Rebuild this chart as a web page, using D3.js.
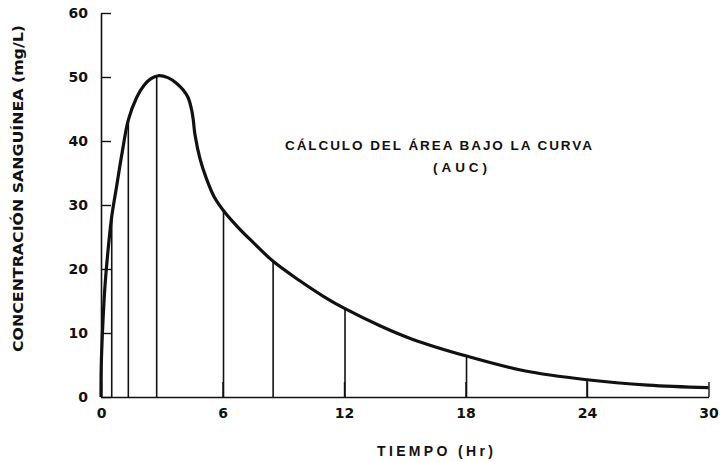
<!DOCTYPE html>
<html>
<head>
<meta charset="utf-8">
<script src="https://cdn.jsdelivr.net/npm/d3@7"></script>
<style>
  html, body { margin: 0; padding: 0; background: #fff; }
  svg { display: block; }
  text { font-family: "Liberation Sans", Arial, sans-serif; font-weight: bold; fill: #111; }
</style>
</head>
<body>
<svg id="chart" width="721" height="462"></svg>
<script>
// ---- data ----
const curveTime = [0, 0.01, 0.05, 0.1, 0.2, 0.35, 0.53, 0.77, 1.05, 1.35, 1.76, 2.1, 2.45, 2.83, 3.3, 3.74, 4.05, 4.3, 4.48, 4.56, 4.64, 4.89, 5.22, 5.6, 6.1, 6.8, 7.5, 8.5, 9.8, 11, 12.05, 13.8, 15.4, 18.05, 20.9, 24, 27, 30];
const curveConc = [0, 4.5, 8.5, 12, 17.5, 23, 28.2, 32.9, 38.3, 43.3, 46.8, 48.6, 49.7, 50.2, 49.9, 49.0, 48.0, 46.8, 44.8, 43.2, 41, 37.2, 34, 31.2, 28.9, 26.4, 24.2, 21.2, 18.2, 15.7, 13.8, 11.1, 9.0, 6.4, 4.1, 2.7, 1.85, 1.45];
const sampleTime = [0.53, 1.35, 2.75, 6.05, 8.5, 12.05, 18.05, 24];
const sampleConc = [28.2, 43.3, 50.1, 29.0, 21.2, 13.8, 6.4, 2.7];
const xTicks = [0, 6, 12, 18, 24, 30];
const yTicks = [0, 10, 20, 30, 40, 50, 60];
const xTitle = "TIEMPO (Hr)";
const yTitle = "CONCENTRACIÓN SANGUÍNEA (mg/L)";
const note1 = "CÁLCULO DEL ÁREA BAJO LA CURVA";
const note2 = "(AUC)";

const svg = d3.select("#chart");
const x = d3.scaleLinear().domain([0, 30]).range([101, 708.5]);
const y = d3.scaleLinear().domain([0, 60]).range([397, 13]);

// sample vertical lines
svg.append("g").selectAll("line")
  .data(sampleTime.map((t, i) => ({ t, c: sampleConc[i] })))
  .join("line")
  .attr("x1", d => x(d.t)).attr("x2", d => x(d.t))
  .attr("y1", y(0)).attr("y2", d => y(d.c))
  .attr("stroke", "#111").attr("stroke-width", 1.6);

// axes
const yAxis = d3.axisLeft(y).tickValues(yTicks).tickSizeInner(-10).tickSizeOuter(0).tickPadding(13);
const gy = svg.append("g").attr("transform", `translate(${x(0)},0)`).call(yAxis);
const xAxis = d3.axisBottom(x).tickValues(xTicks).tickSizeInner(-15).tickSizeOuter(0).tickPadding(11);
const gx = svg.append("g").attr("transform", `translate(0,${y(0)})`).call(xAxis);
[gx, gy].forEach(g => {
  g.select(".domain").attr("stroke", "#111").attr("stroke-width", 1.6);
  g.selectAll(".tick line").attr("stroke", "#111").attr("stroke-width", 1.4);
  g.selectAll(".tick text").style("font-family", "'DejaVu Sans', sans-serif")
    .style("font-weight", "bold").style("font-size", "14px").attr("fill", "#111");
});
gy.selectAll(".tick text").attr("dy", "0.32em");

// curve
const line = d3.line().x((d, i) => x(curveTime[i])).y(d => y(d)).curve(d3.curveCatmullRom.alpha(0.5));
svg.append("path").datum(curveConc)
  .attr("d", line).attr("fill", "none")
  .attr("stroke", "#111").attr("stroke-width", 3.2).attr("stroke-linejoin", "round");

// titles
svg.append("text").attr("x", 377).attr("y", 456)
  .attr("textLength", 116).attr("lengthAdjust", "spacing")
  .style("font-size", "14px").text(xTitle);

svg.append("text")
  .attr("transform", "translate(23,352) rotate(-90)")
  .attr("x", 0).attr("y", 0)
  .attr("textLength", 327).attr("lengthAdjust", "spacingAndGlyphs")
  .style("font-family", "'DejaVu Sans', sans-serif")
  .style("font-size", "14px").text(yTitle);

svg.append("text").attr("x", 285).attr("y", 150)
  .attr("textLength", 307).attr("lengthAdjust", "spacing")
  .style("font-size", "13.5px").text(note1);
svg.append("text").attr("x", 433).attr("y", 172)
  .attr("textLength", 54).attr("lengthAdjust", "spacing")
  .style("font-size", "13.5px").text(note2);
</script>
</body>
</html>
